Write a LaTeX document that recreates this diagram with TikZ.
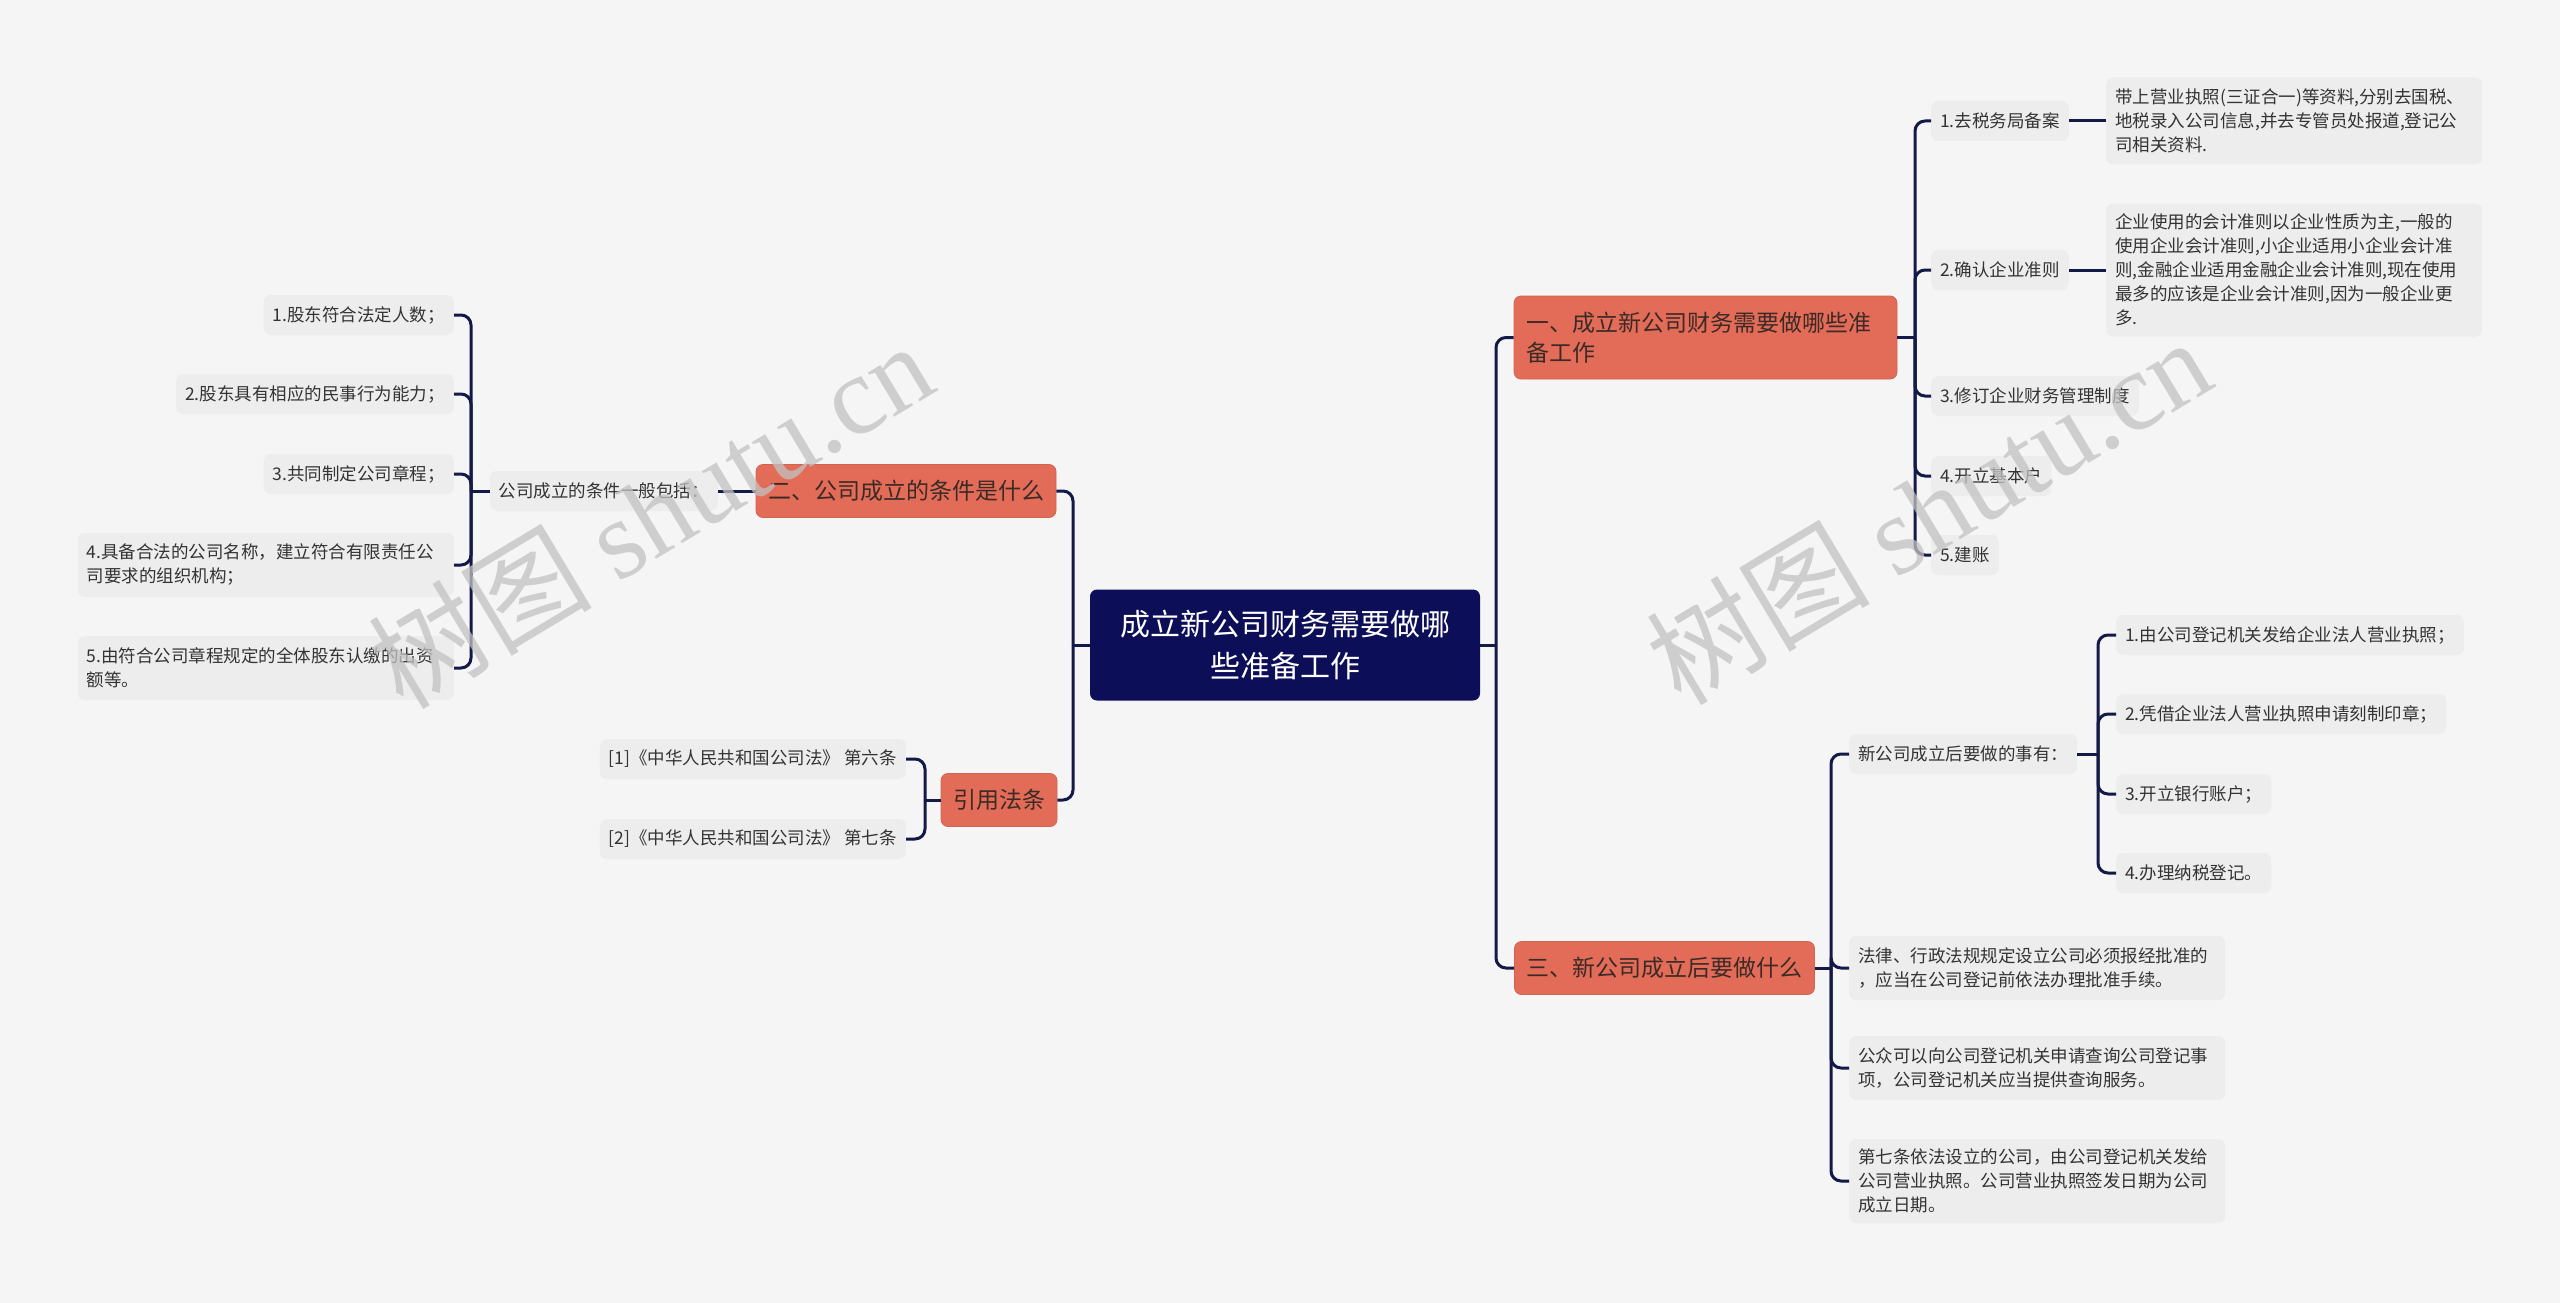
\documentclass[tikz,border=0pt]{standalone}
\usepackage{fontspec}
\setmainfont{Noto Sans CJK SC}
\newfontfamily\wmserif{Liberation Serif}
\definecolor{bgc}{HTML}{F5F5F5}
\definecolor{rootc}{HTML}{0D0E58}
\definecolor{brc}{HTML}{E36C58}
\definecolor{brtext}{HTML}{3B2A26}
\definecolor{leafc}{HTML}{EDEDED}
\definecolor{leaftext}{HTML}{333333}
\definecolor{connc}{HTML}{141A48}
\definecolor{wmc}{HTML}{C2C2C2}
\tikzset{
  rootbox/.style={fill=rootc, text=white, rounded corners=7, font=\fontsize{30}{42}\selectfont, align=center, minimum width=390, minimum height=111, inner sep=0},
  brbox/.style={fill=brc, draw=brc!92!black, line width=0.8, text=brtext, rounded corners=7, font=\fontsize{23}{30}\selectfont, minimum height=53, inner xsep=12, inner ysep=0},
  subbox/.style={fill=leafc, text=leaftext, rounded corners=7, font=\fontsize{17.5}{24}\selectfont, minimum height=40, inner xsep=9, inner ysep=0},
  longbox/.style={subbox, text width=358, align=left, inner ysep=8},
  conn/.style={draw=connc, line width=3, rounded corners=10},
  wmark/.style={text=wmc, opacity=0.75, rotate=31, font=\fontsize{112}{112}\selectfont},
}
\begin{document}
\begin{tikzpicture}[x=1pt,y=-1pt]
\fill[bgc] (0,0) rectangle (2560,1303);
\useasboundingbox (0,0) rectangle (2560,1303);

% root
\node[rootbox] (root) at (1285,645) {成立新公司财务需要做哪\\些准备工作};

% branches
\node[brbox, text width=359, align=left, minimum height=83] (b1) at (1705.5,337.5) {一、成立新公司财务需要做哪些准\\备工作};
\node[brbox, minimum width=300] (b2) at (906,491) {二、公司成立的条件是什么};
\node[brbox, minimum width=115] (b3) at (999,800) {引用法条};
\node[brbox, minimum width=299] (b4) at (1664.5,968) {三、新公司成立后要做什么};

% branch 1 children
\node[subbox, anchor=west] (c11) at (1931,121) {1.去税务局备案};
\node[subbox, anchor=west] (c12) at (1931,270) {2.确认企业准则};
\node[subbox, anchor=west] (c13) at (1931,396) {3.修订企业财务管理制度};
\node[subbox, anchor=west] (c14) at (1931,476) {4.开立基本户};
\node[subbox, anchor=west] (c15) at (1931,555) {5.建账};
\node[longbox, anchor=west, minimum height=87] (l11) at (2106,121) {带上营业执照(三证合一)等资料,分别去国税、\\地税录入公司信息,并去专管员处报道,登记公\\司相关资料.};
\node[longbox, anchor=west, minimum height=133] (l12) at (2106,270) {企业使用的会计准则以企业性质为主,一般的\\使用企业会计准则,小企业适用小企业会计准\\则,金融企业适用金融企业会计准则,现在使用\\最多的应该是企业会计准则,因为一般企业更\\多.};

% branch 4 children
\node[subbox, anchor=west] (c41) at (1849,754) {新公司成立后要做的事有：};
\node[longbox, anchor=west, minimum height=64] (c42) at (1849,968) {法律、行政法规规定设立公司必须报经批准的\\，应当在公司登记前依法办理批准手续。};
\node[longbox, anchor=west, minimum height=64] (c43) at (1849,1068) {公众可以向公司登记机关申请查询公司登记事\\项，公司登记机关应当提供查询服务。};
\node[longbox, anchor=west, minimum height=84] (c44) at (1849,1181) {第七条依法设立的公司，由公司登记机关发给\\公司营业执照。公司营业执照签发日期为公司\\成立日期。};
\node[subbox, anchor=west] (c411) at (2116,635) {1.由公司登记机关发给企业法人营业执照；};
\node[subbox, anchor=west] (c412) at (2116,714) {2.凭借企业法人营业执照申请刻制印章；};
\node[subbox, anchor=west] (c413) at (2116,794) {3.开立银行账户；};
\node[subbox, anchor=west] (c414) at (2116,873) {4.办理纳税登记。};

% branch 2 children
\node[subbox, anchor=east] (c21) at (718,491) {公司成立的条件一般包括：};
\node[subbox, anchor=east] (c211) at (454,315) {1.股东符合法定人数；};
\node[subbox, anchor=east] (c212) at (454,394) {2.股东具有相应的民事行为能力；};
\node[subbox, anchor=east] (c213) at (454,474) {3.共同制定公司章程；};
\node[longbox, anchor=east, minimum height=64] (c214) at (454,565) {4.具备合法的公司名称，建立符合有限责任公\\司要求的组织机构；};
\node[longbox, anchor=east, minimum height=64] (c215) at (454,668) {5.由符合公司章程规定的全体股东认缴的出资\\额等。};

% branch 3 children
\node[subbox, anchor=east] (c31) at (906,759) {[1]《中华人民共和国公司法》 第六条};
\node[subbox, anchor=east] (c32) at (906,839) {[2]《中华人民共和国公司法》 第七条};

% trunk coordinates
\coordinate (tR) at (1496,645);
\coordinate (tL) at (1073,645);
\coordinate (t1) at (1915,337.5);
\coordinate (t4) at (1831,968);
\coordinate (t41) at (2098,754);
\coordinate (t21) at (471,491);
\coordinate (t3) at (925,800);

% connectors
\draw[conn] (root.east) -- (tR);
\draw[conn] (tR) |- (b1.west);
\draw[conn] (tR) |- (b4.west);
\draw[conn] (root.west) -- (tL);
\draw[conn] (tL) |- (b2.east);
\draw[conn] (tL) |- (b3.east);

\draw[conn] (b1.east) -- (t1);
\foreach \c in {c11,c12,c13,c14,c15} \draw[conn] (t1) |- (\c.west);
\draw[conn] (c11.east) -- (l11.west);
\draw[conn] (c12.east) -- (l12.west);

\draw[conn] (b4.east) -- (t4);
\foreach \c in {c41,c42,c43,c44} \draw[conn] (t4) |- (\c.west);
\draw[conn] (c41.east) -- (t41);
\foreach \c in {c411,c412,c413,c414} \draw[conn] (t41) |- (\c.west);

\draw[conn] (b2.west) -- (c21.east);
\draw[conn] (c21.west) -- (t21);
\foreach \c in {c211,c212,c213,c214,c215} \draw[conn] (t21) |- (\c.east);

\draw[conn] (b3.west) -- (t3);
\foreach \c in {c31,c32} \draw[conn] (t3) |- (\c.east);

% watermarks
\node[wmark] (wm1) at (650,514) {树图 {\wmserif shutu.cn}};
\node[wmark] (wm2) at (1928,510) {树图 {\wmserif shutu.cn}};
\end{tikzpicture}
\end{document}
